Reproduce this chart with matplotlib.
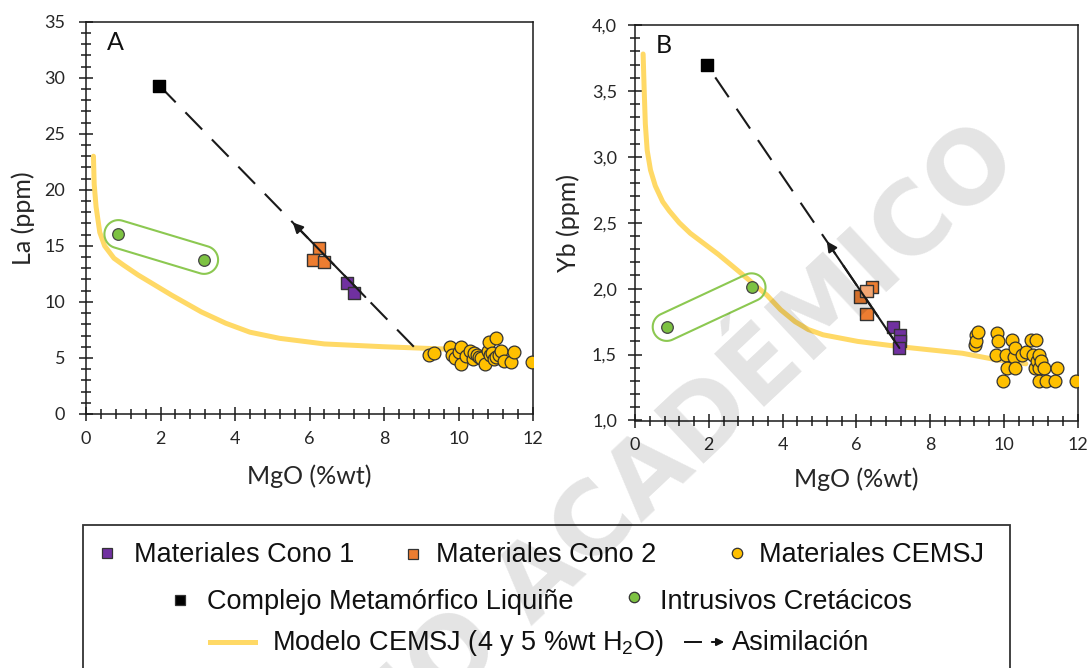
import numpy as np
import matplotlib
matplotlib.use("Agg")
import matplotlib.pyplot as plt
from matplotlib.patches import Rectangle, Polygon, FancyArrowPatch
from matplotlib.lines import Line2D
from matplotlib.ticker import MultipleLocator, FuncFormatter
from matplotlib.transforms import IdentityTransform

# ---------------- Panel A: La (ppm) vs MgO (%wt) ----------------
cono1_mgo_a = [7.00, 7.20]
cono1_la = [11.70, 10.80]
cono2_mgo_a = [6.26, 6.10, 6.40]
cono2_la = [14.80, 13.75, 13.60]
cml_mgo_a = [1.97]
cml_la = [29.30]
intr_mgo_a = [0.87, 3.17]
intr_la = [16.05, 13.75]
cemsj_mgo_a = [9.22, 9.33, 9.78, 9.83, 9.90, 10.00, 10.08, 10.08, 10.20, 10.30,
               10.40, 10.42, 10.50, 10.55, 10.60, 10.72, 10.78, 10.82, 10.85, 10.90,
               10.95, 11.00, 11.02, 11.10, 11.15, 11.22, 11.40, 11.48, 11.97]
cemsj_la = [5.30, 5.40, 5.95, 5.30, 5.00, 5.50, 6.00, 4.45, 5.15, 5.65,
            4.90, 5.45, 5.30, 5.10, 5.00, 4.45, 5.60, 6.45, 5.30, 5.45,
            4.90, 5.10, 6.80, 5.30, 5.60, 4.75, 4.60, 5.50, 4.60]
model_mgo_a = [0.20, 0.22, 0.27, 0.37, 0.50, 0.75, 1.00, 1.40, 2.30, 3.10, 3.75,
               4.40, 5.20, 6.40, 8.00, 8.80, 9.60]
model_la = [23.0, 20.5, 18.5, 16.2, 15.0, 13.9, 13.3, 12.4, 10.6, 9.1, 8.1,
            7.3, 6.75, 6.25, 6.0, 5.9, 5.8]
assim_mgo_a = [8.80, 1.97]
assim_la = [6.00, 29.30]
arrow_mgo_a = [7.50, 5.55]

# ---------------- Panel B: Yb (ppm) vs MgO (%wt) ----------------
cono1_mgo_b = [7.00, 7.18, 7.18, 7.17]
cono1_yb = [1.71, 1.65, 1.60, 1.55]
cono2_mgo_b = [6.10, 6.42, 6.28, 6.28]
cono2_yb = [1.94, 2.01, 1.81, 1.98]
cono2_face_b = ["#ED7D31", "#ED7D31", "#ED7D31", "#F2A673"]
cml_mgo_b = [1.94]
cml_yb = [3.70]
intr_mgo_b = [0.86, 3.16]
intr_yb = [1.71, 2.01]
cemsj_mgo_b = [9.22, 9.25, 9.26, 9.30, 9.80, 9.82, 9.85, 9.98, 10.05, 10.10,
               10.22, 10.27, 10.30, 10.30, 10.50, 10.60, 10.75, 10.80, 10.85, 10.88,
               10.90, 10.95, 10.95, 10.95, 11.00, 11.10, 11.15, 11.40, 11.45, 11.95]
cemsj_yb = [1.57, 1.65, 1.60, 1.67, 1.50, 1.66, 1.60, 1.30, 1.50, 1.40,
            1.61, 1.48, 1.55, 1.40, 1.50, 1.52, 1.61, 1.50, 1.40, 1.61,
            1.45, 1.50, 1.40, 1.30, 1.45, 1.40, 1.30, 1.30, 1.40, 1.30]
model_mgo_b = [0.22, 0.25, 0.28, 0.33, 0.42, 0.55, 0.75, 0.93, 1.20, 1.50, 2.26,
               2.82, 3.20, 3.58, 3.95, 4.34, 4.70, 5.10, 6.04, 7.18, 8.88, 9.82, 10.60]
model_yb = [3.78, 3.50, 3.25, 3.05, 2.90, 2.78, 2.66, 2.59, 2.50, 2.42, 2.26,
            2.13, 2.04, 1.95, 1.84, 1.75, 1.69, 1.65, 1.60, 1.56, 1.51, 1.46, 1.43]
assim_mgo_b = [7.17, 1.94]
assim_yb = [1.55, 3.70]
arrow_mgo_b = [7.17, 5.20]

# ---------------- styling ----------------
C_PURPLE = "#7030A0"
C_ORANGE = "#ED7D31"
C_YELLOW = "#FFC000"
C_GREEN = "#7DC242"
C_MODEL = "#FFD966"
C_EDGE = "#333333"
C_TEXT = "#262626"

plt.rcParams["mathtext.fontset"] = "custom"
plt.rcParams["mathtext.rm"] = "Liberation Sans"
plt.rcParams["mathtext.it"] = "Liberation Sans:italic"

W, H = 1090, 668
fig = plt.figure(figsize=(W / 100, H / 100), dpi=100)
fig.patch.set_facecolor("white")

TICK_FONT = ["Lato", "DejaVu Sans"]


def rect_px(left, top, right, bottom):
    return [left / W, 1 - bottom / H, (right - left) / W, (bottom - top) / H]


def style_axes(ax, xlim, ylim, ymajor, yminor, ypad, yfmt):
    ax.set_xlim(*xlim)
    ax.set_ylim(*ylim)
    ax.xaxis.set_major_locator(MultipleLocator(2))
    ax.xaxis.set_minor_locator(MultipleLocator(0.4))
    ax.yaxis.set_major_locator(MultipleLocator(ymajor))
    ax.yaxis.set_minor_locator(MultipleLocator(yminor))
    ax.yaxis.set_major_formatter(FuncFormatter(yfmt))
    ax.tick_params(which="major", direction="inout", length=10, width=1.1,
                   color="#1a1a1a", labelsize=13, labelcolor=C_TEXT)
    ax.tick_params(which="minor", direction="inout", length=7, width=1.1, color="#1a1a1a")
    ax.tick_params(axis="x", which="major", pad=7)
    ax.tick_params(axis="y", which="major", pad=ypad)
    for lab in ax.get_xticklabels() + ax.get_yticklabels():
        lab.set_family(TICK_FONT)
    for sp in ax.spines.values():
        sp.set_linewidth(1.1)
        sp.set_color("#1a1a1a")


def enclose(ax, xs, ys, r=14, color="#8CC851"):
    """Capsule outline around two points, built in display space."""
    p0, p1 = ax.transData.transform(np.column_stack([xs, ys]))
    d = p1 - p0
    ang = np.arctan2(d[1], d[0])
    t_end = np.linspace(ang - np.pi / 2, ang + np.pi / 2, 40)
    t_start = np.linspace(ang + np.pi / 2, ang + 3 * np.pi / 2, 40)
    pts = np.vstack([p1 + r * np.column_stack([np.cos(t_end), np.sin(t_end)]),
                     p0 + r * np.column_stack([np.cos(t_start), np.sin(t_start)])])
    ax.add_patch(Polygon(pts, closed=True, fill=False, edgecolor=color, lw=1.5,
                         transform=IdentityTransform(), zorder=3))


def draw_panel(ax, d):
    ax.plot(d["model_x"], d["model_y"], color=C_MODEL, lw=3.6,
            solid_capstyle="round", solid_joinstyle="round", zorder=2)
    ax.plot(d["assim_x"], d["assim_y"], color="#1a1a1a", lw=1.5,
            linestyle=(0, (11.5, 6.7)), zorder=3)
    ax.scatter(d["cemsj_x"], d["cemsj_y"], s=85, marker="o", facecolor=C_YELLOW,
               edgecolor=C_EDGE, linewidth=0.9, zorder=4)
    ax.scatter(d["intr_x"], d["intr_y"], s=70, marker="o", facecolor=C_GREEN,
               edgecolor="#444444", linewidth=0.9, zorder=4)
    ax.scatter(d["cono2_x"], d["cono2_y"], s=78, marker="s", facecolor=d["cono2_face"],
               edgecolor=C_EDGE, linewidth=1.0, zorder=4)
    ax.scatter(d["cono1_x"], d["cono1_y"], s=78, marker="s", facecolor=C_PURPLE,
               edgecolor=C_EDGE, linewidth=1.0, zorder=4)
    ax.scatter(d["cml_x"], d["cml_y"], s=78, marker="s", facecolor="black",
               edgecolor="black", linewidth=1.0, zorder=4)
    # assimilation arrow along the mixing line
    lx = np.array(d["assim_x"])[::-1]
    ly = np.array(d["assim_y"])[::-1]
    tail_x, head_x = d["arrow_x"]
    ax.annotate("", xy=(head_x, np.interp(head_x, lx, ly)),
                xytext=(tail_x, np.interp(tail_x, lx, ly)),
                arrowprops=dict(arrowstyle="-|>", color="#1a1a1a", lw=1.5,
                                mutation_scale=15, shrinkA=0, shrinkB=0),
                zorder=5)
    enclose(ax, d["intr_x"], d["intr_y"])
    ax.text(0.047, 0.928, d["letter"], transform=ax.transAxes, fontsize=18,
            family=TICK_FONT, color="#111111", va="baseline", ha="left")


LABEL_KW = dict(fontsize=18, family=TICK_FONT, color=C_TEXT)

# ---------------- Panel A ----------------
axA = fig.add_axes(rect_px(86, 21.7, 533, 414))
style_axes(axA, (0, 12), (0, 35), 5, 1, 10, lambda v, p: f"{v:.0f}")
axA.set_xticks(np.arange(0, 13, 2))
axA.set_xticklabels([f"{v}" for v in range(0, 13, 2)], family=TICK_FONT)
axA.set_xlabel("MgO (%wt)", **LABEL_KW)
axA.set_ylabel("La (ppm)", **LABEL_KW)
axA.xaxis.set_label_coords(0.5, -0.128)
axA.yaxis.set_label_coords(-0.114, 0.5)
draw_panel(axA, dict(model_x=model_mgo_a, model_y=model_la,
                     assim_x=assim_mgo_a, assim_y=assim_la, arrow_x=arrow_mgo_a,
                     cemsj_x=cemsj_mgo_a, cemsj_y=cemsj_la,
                     intr_x=intr_mgo_a, intr_y=intr_la,
                     cono2_x=cono2_mgo_a, cono2_y=cono2_la, cono2_face=C_ORANGE,
                     cono1_x=cono1_mgo_a, cono1_y=cono1_la,
                     cml_x=cml_mgo_a, cml_y=cml_la, letter="A"))

# ---------------- Panel B ----------------
axB = fig.add_axes(rect_px(635, 25, 1077.5, 420.5))
style_axes(axB, (0, 12), (1.0, 4.0), 0.5, 0.1, 8,
           lambda v, p: f"{v:.1f}".replace(".", ","))
axB.set_xticks(np.arange(0, 13, 2))
axB.set_xticklabels([f"{v}" for v in range(0, 13, 2)], family=TICK_FONT)
axB.set_xlabel("MgO (%wt)", **LABEL_KW)
axB.set_ylabel("Yb (ppm)", **LABEL_KW)
axB.xaxis.set_label_coords(0.5, -0.118)
axB.yaxis.set_label_coords(-0.124, 0.5)
draw_panel(axB, dict(model_x=model_mgo_b, model_y=model_yb,
                     assim_x=assim_mgo_b, assim_y=assim_yb, arrow_x=arrow_mgo_b,
                     cemsj_x=cemsj_mgo_b, cemsj_y=cemsj_yb,
                     intr_x=intr_mgo_b, intr_y=intr_yb,
                     cono2_x=cono2_mgo_b, cono2_y=cono2_yb, cono2_face=cono2_face_b,
                     cono1_x=cono1_mgo_b, cono1_y=cono1_yb,
                     cml_x=cml_mgo_b, cml_y=cml_yb, letter="B"))

# ---------------- shared legend box ----------------
def fp(x, y):
    return (x / W, 1 - y / H)


fig.add_artist(Rectangle(fp(83, 720), (1010 - 83) / W, (720 - 525) / H,
                         transform=fig.transFigure, fill=False,
                         edgecolor="#333333", lw=1.3, clip_on=False))

LEG_FONT = dict(family=["Liberation Sans", "DejaVu Sans"], fontsize=19.5,
                color="#111111", va="baseline", ha="left")


def leg_marker(x, y, marker, face, size):
    fig.add_artist(Line2D([x / W], [1 - y / H], transform=fig.transFigure,
                          marker=marker, markersize=size, markerfacecolor=face,
                          markeredgecolor=C_EDGE, markeredgewidth=0.9, linestyle="none"))


leg_marker(107, 553, "s", C_PURPLE, 7.5)
fig.text(*fp(134, 562), "Materiales Cono 1", **LEG_FONT)
leg_marker(412.5, 553.5, "s", C_ORANGE, 7.5)
fig.text(*fp(436, 562), "Materiales Cono 2", **LEG_FONT)
leg_marker(737, 553, "o", C_YELLOW, 7.5)
fig.text(*fp(759, 562), "Materiales CEMSJ", **LEG_FONT)

leg_marker(180, 600, "s", "black", 7.5)
fig.text(*fp(207, 609), "Complejo Metamórfico Liquiñe", **LEG_FONT)
leg_marker(634, 597, "o", C_GREEN, 7.5)
fig.text(*fp(660, 609), "Intrusivos Cretácicos", **LEG_FONT)

fig.add_artist(Line2D([210 / W, 255 / W], [1 - 642 / H] * 2, transform=fig.transFigure,
                      color=C_MODEL, lw=3.6))
fig.text(*fp(272, 650), r"Modelo CEMSJ (4 y 5 %wt H$_{\mathrm{2}}$O)", **LEG_FONT)
fig.add_artist(Line2D([685 / W, 701 / W], [1 - 642 / H] * 2, transform=fig.transFigure,
                      color="#111111", lw=1.4))
fig.add_artist(FancyArrowPatch(fp(709, 642), fp(727, 642), transform=fig.transFigure,
                               arrowstyle="-|>", mutation_scale=11,
                               color="#111111", lw=1.4))
fig.text(*fp(732, 650), "Asimilación", **LEG_FONT)

# repository watermark, running off the lower edge
fig.text(1023 / W, 1 - 164.6 / H, "REPOSITORIO ACADÉMICO", rotation=43.2,
         rotation_mode="anchor", ha="right", va="baseline", fontsize=72,
         fontweight="bold", family="DejaVu Sans", color="black", alpha=0.11, zorder=20)

fig.savefig("out.png", dpi=100)
